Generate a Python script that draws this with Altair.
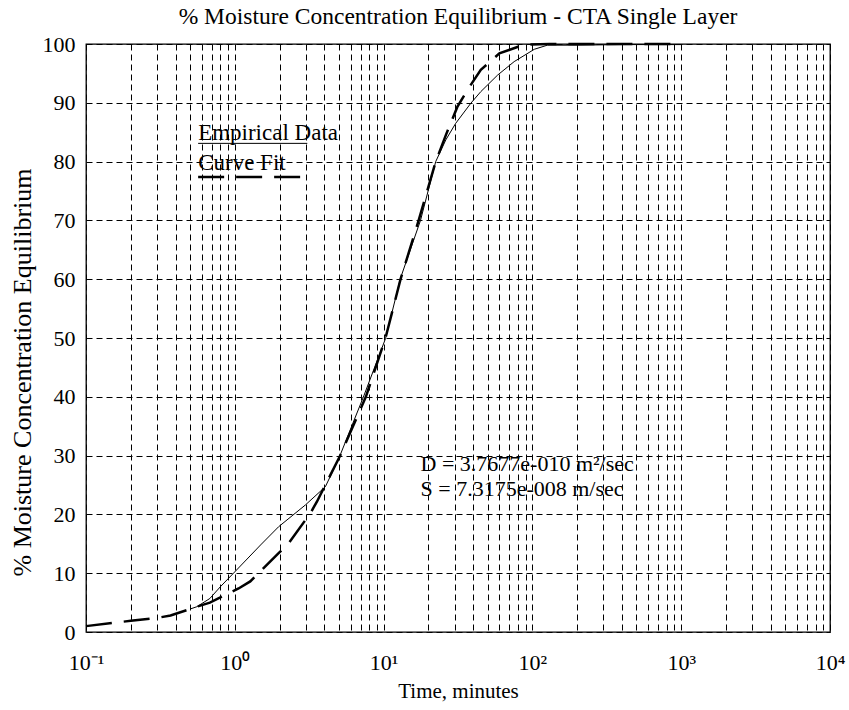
import altair as alt
import pandas as pd

FONT = "Liberation Serif"

# ---- data ----
fit_t = [0.1, 0.157, 0.2, 0.3, 0.37, 0.556, 0.68, 1.06, 1.27, 1.97, 2.3, 3.22, 3.57,
         5.13, 7.6, 10.3, 13.0, 17.2, 22.4, 26.2, 31.3, 36.6, 45, 60, 88, 130, 200, 1000]
fit_v = [1.0, 1.6, 1.9, 2.4, 2.8, 4.3, 5.0, 7.4, 8.6, 13.4, 15.1, 20.2, 22.2,
         30.1, 40.0, 50.0, 60.0, 70.0, 80.0, 84.5, 89.3, 92.2, 95.6, 98.4, 99.9, 100, 100, 100]

emp_t = [0.5, 0.556, 0.68, 0.8, 0.98, 1.49, 1.97, 2.98, 4.06,
         5.0, 7.4, 10.3, 13.0, 17.7, 22.4, 26.2, 30.5, 38.5, 45, 58.3, 75.4, 103, 126,
         200, 400, 1000]
emp_v = [3.9, 4.3, 5.7, 7.7, 10.0, 14.8, 17.9, 21.6, 24.7,
         29.5, 40.3, 49.9, 60.2, 70.0, 80.0, 83.7, 86.5, 89.9, 91.9, 94.7, 97.0, 99.1, 99.8,
         99.8, 99.9, 99.9]

decades = [0.1, 1, 10, 100, 1000, 10000]
decade_labels = ["10⁻¹", "10⁰", "10¹", "10²", "10³", "10⁴"]
minor_mult = [2, 3, 4, 5, 6, 7, 8, 9]
y_ticks = list(range(0, 101, 10))

legend_labels = ["Empirical Data", "Curve Fit"]
legend_text_x = [0.567, 0.567]
legend_text_y = [83.6, 78.5]
legend_line_x = [0.567, 3.07]
legend_line_y = [83.1, 77.4]

annot_lines = ["D = 3.7677e-010 m²/sec", "S = 7.3175e-008 m/sec"]
annot_x = [17.7, 17.7]
annot_y = [27.3, 23.2]

title_text = "% Moisture Concentration Equilibrium - CTA Single Layer"
x_title = "Time, minutes"
y_title = "% Moisture Concentration Equilibrium"

# ---- build ----
x_grid = sorted(set(decades + [round(d * m, 6) for d in decades[:-1] for m in minor_mult]))
label_expr = " : ".join(f"datum.value == {d} ? '{l}'" for d, l in zip(decades, decade_labels)) + " : ''"

xs = alt.Scale(type="log", domain=[0.1, 10000], nice=False)
ys = alt.Scale(domain=[0, 100], nice=False)

x_axis = alt.Axis(values=x_grid, labelExpr=label_expr, labelPadding=20, titlePadding=7,
                  labelOverlap=False, labelFlush=False, titleFontSize=21)
y_axis = alt.Axis(values=y_ticks, labelPadding=11, titlePadding=7, titleFontSize=26,
                  titleY=328)

df_fit = pd.DataFrame({"t": fit_t, "v": fit_v})
df_emp = pd.DataFrame({"t": emp_t, "v": emp_v})

emp = alt.Chart(df_emp).mark_line(color="black", strokeWidth=1).encode(
    x=alt.X("t:Q", scale=xs, axis=x_axis, title=x_title),
    y=alt.Y("v:Q", scale=ys, axis=y_axis, title=y_title),
)
fit = alt.Chart(df_fit).mark_line(color="black", strokeWidth=2.5, strokeDash=[26, 12]).encode(
    x=alt.X("t:Q", scale=xs), y=alt.Y("v:Q", scale=ys)
)

df_leg = pd.DataFrame({"t": legend_text_x, "v": legend_text_y, "label": legend_labels})
leg_text = alt.Chart(df_leg).mark_text(align="left", baseline="alphabetic", font=FONT,
                                       fontSize=23, color="black").encode(
    x=alt.X("t:Q", scale=xs), y=alt.Y("v:Q", scale=ys), text="label:N")

df_leg_emp = pd.DataFrame({"t": [legend_line_x[0]], "t2": [legend_line_x[1]], "v": [legend_line_y[0]]})
df_leg_fit = pd.DataFrame({"t": [legend_line_x[0]], "t2": [legend_line_x[1]], "v": [legend_line_y[1]]})
leg_emp = alt.Chart(df_leg_emp).mark_rule(color="black", strokeWidth=1).encode(
    x=alt.X("t:Q", scale=xs), x2="t2:Q", y=alt.Y("v:Q", scale=ys))
leg_fit = alt.Chart(df_leg_fit).mark_rule(color="black", strokeWidth=2.5, strokeDash=[26, 12]).encode(
    x=alt.X("t:Q", scale=xs), x2="t2:Q", y=alt.Y("v:Q", scale=ys))

df_ann = pd.DataFrame({"t": annot_x, "v": annot_y, "label": annot_lines})
ann = alt.Chart(df_ann).mark_text(align="left", baseline="alphabetic", font=FONT,
                                  fontSize=22, color="black").encode(
    x=alt.X("t:Q", scale=xs), y=alt.Y("v:Q", scale=ys), text="label:N")

chart = alt.layer(emp, fit, leg_emp, leg_fit, leg_text, ann).properties(
    width=744, height=588,
    padding={"left": 86, "top": 44, "right": 19, "bottom": 78},
    autosize="none",
    title=alt.TitleParams(title_text, font=FONT, fontSize=23.5, fontWeight="normal",
                          color="black", offset=5, anchor="middle"),
    background="white",
).configure_view(stroke="black", strokeWidth=1.3).configure_axis(
    labelFont=FONT, labelFontSize=22, labelColor="black",
    titleFont=FONT, titleColor="black", titleFontWeight="normal",
    ticks=False, domain=False, grid=True, gridColor="black", gridOpacity=1,
    gridDash=[6, 4], gridWidth=1,
)

chart.save("out.html", embed_options={"renderer": "svg", "actions": False})
